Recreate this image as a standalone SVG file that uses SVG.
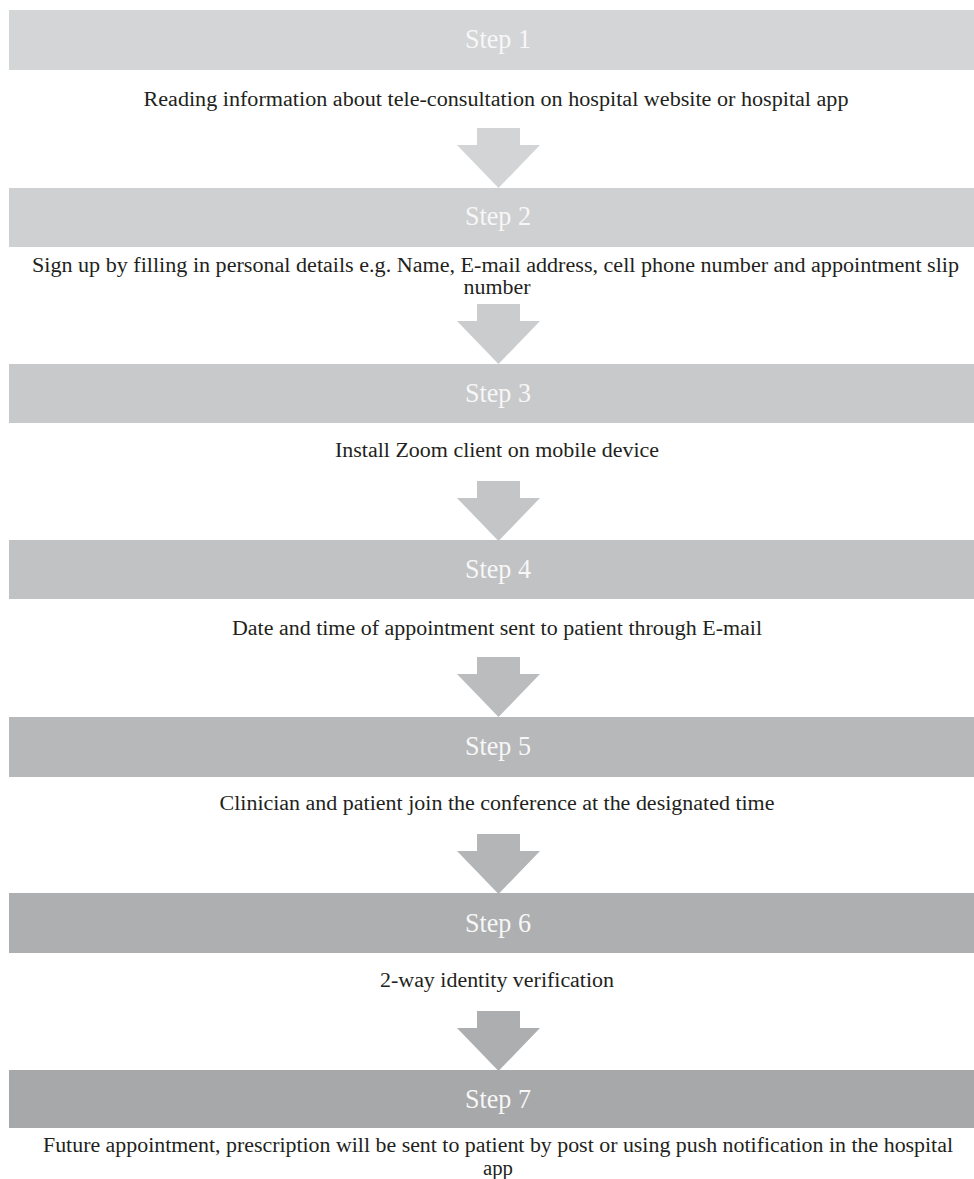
<svg xmlns="http://www.w3.org/2000/svg" width="974" height="1179" viewBox="0 0 974 1179">
  <style>
    .bar { stroke: none; }
    .step { font-family: "Liberation Serif", "Times New Roman", serif; font-size: 28px; fill: #f7f7f7; text-anchor: middle; }
    .desc { font-family: "Liberation Serif", "Times New Roman", serif; font-size: 20px; fill: #231f20; text-anchor: middle; }
  </style>
  <defs>
    <path id="arrow" d="M-21.5,0 H21.5 V17 H41.5 L0,60 L-41.5,17 H-21.5 Z"/>
  </defs>
  <rect width="974" height="1179" fill="#ffffff"/>

  <g id="connectors">
    <use href="#arrow" x="498.5" y="128" fill="#d3d4d6"/>
    <use href="#arrow" x="498.5" y="304" fill="#cbcccd"/>
    <use href="#arrow" x="498.5" y="481" fill="#c4c5c7"/>
    <use href="#arrow" x="498.5" y="657" fill="#bbbcbe"/>
    <use href="#arrow" x="498.5" y="834" fill="#b4b5b7"/>
    <use href="#arrow" x="498.5" y="1011" fill="#adaeb0"/>
  </g>

  <g id="step1">
    <rect class="bar" x="9" y="10" width="979" height="60" fill="#d4d5d7"/>
    <text class="step" x="498" y="48" textLength="66" lengthAdjust="spacingAndGlyphs">Step 1</text>
    <text class="desc" x="496" y="106" textLength="705" lengthAdjust="spacingAndGlyphs">Reading information about tele-consultation on hospital website or hospital app</text>
  </g>
  <g id="step2">
    <rect class="bar" x="9" y="188" width="979" height="59" fill="#cfd0d2"/>
    <text class="step" x="498" y="225" textLength="66" lengthAdjust="spacingAndGlyphs">Step 2</text>
    <text class="desc" x="495.5" y="271.5" textLength="927" lengthAdjust="spacingAndGlyphs">Sign up by filling in personal details e.g. Name, E-mail address, cell phone number and appointment slip</text>
    <text class="desc" x="497" y="294" textLength="67" lengthAdjust="spacingAndGlyphs">number</text>
  </g>
  <g id="step3">
    <rect class="bar" x="9" y="364" width="979" height="59" fill="#c8c9cb"/>
    <text class="step" x="498" y="402" textLength="66" lengthAdjust="spacingAndGlyphs">Step 3</text>
    <text class="desc" x="497" y="457" textLength="324" lengthAdjust="spacingAndGlyphs">Install Zoom client on mobile device</text>
  </g>
  <g id="step4">
    <rect class="bar" x="9" y="540" width="979" height="59" fill="#c1c2c4"/>
    <text class="step" x="498" y="578" textLength="66" lengthAdjust="spacingAndGlyphs">Step 4</text>
    <text class="desc" x="497" y="635" textLength="530" lengthAdjust="spacingAndGlyphs">Date and time of appointment sent to patient through E-mail</text>
  </g>
  <g id="step5">
    <rect class="bar" x="9" y="717" width="979" height="60" fill="#b7b8ba"/>
    <text class="step" x="498" y="755" textLength="66" lengthAdjust="spacingAndGlyphs">Step 5</text>
    <text class="desc" x="497" y="810" textLength="555" lengthAdjust="spacingAndGlyphs">Clinician and patient join the conference at the designated time</text>
  </g>
  <g id="step6">
    <rect class="bar" x="9" y="893" width="979" height="60" fill="#aeafb1"/>
    <text class="step" x="498" y="932" textLength="66" lengthAdjust="spacingAndGlyphs">Step 6</text>
    <text class="desc" x="497" y="987" textLength="234" lengthAdjust="spacingAndGlyphs">2-way identity verification</text>
  </g>
  <g id="step7">
    <rect class="bar" x="9" y="1070" width="979" height="58" fill="#a7a8aa"/>
    <text class="step" x="498" y="1108" textLength="66" lengthAdjust="spacingAndGlyphs">Step 7</text>
    <text class="desc" x="498" y="1152" textLength="910" lengthAdjust="spacingAndGlyphs">Future appointment, prescription will be sent to patient by post or using push notification in the hospital</text>
    <text class="desc" x="498" y="1174.5" textLength="30" lengthAdjust="spacingAndGlyphs">app</text>
  </g>
</svg>
